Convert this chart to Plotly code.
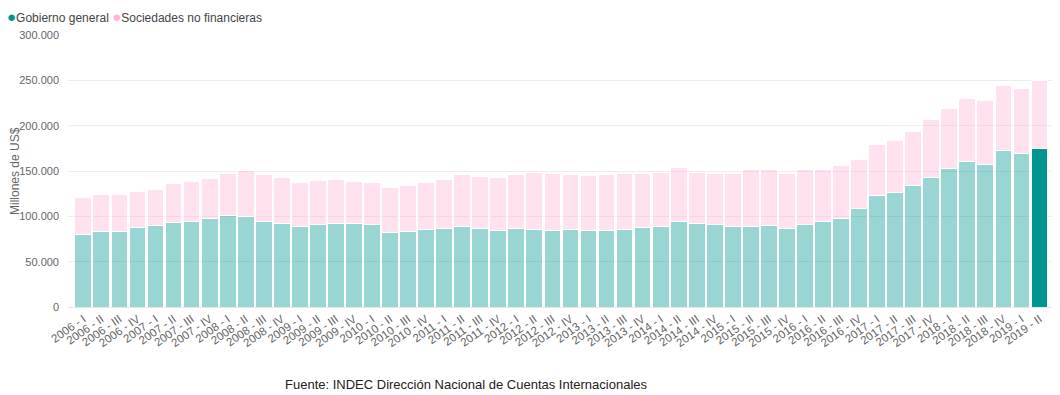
import plotly.graph_objects as go

categories = [
    "2006 - I", "2006 - II", "2006 - III", "2006 - IV",
    "2007 - I", "2007 - II", "2007 - III", "2007 - IV",
    "2008 - I", "2008 - II", "2008 - III", "2008 - IV",
    "2009 - I", "2009 - II", "2009 - III", "2009 - IV",
    "2010 - I", "2010 - II", "2010 - III", "2010 - IV",
    "2011 - I", "2011 - II", "2011 - III", "2011 - IV",
    "2012 - I", "2012 - II", "2012 - III", "2012 - IV",
    "2013 - I", "2013 - II", "2013 - III", "2013 - IV",
    "2014 - I", "2014 - II", "2014 - III", "2014 - IV",
    "2015 - I", "2015 - II", "2015 - III", "2015 - IV",
    "2016 - I", "2016 - II", "2016 - III", "2016 - IV",
    "2017 - I", "2017 - II", "2017 - III", "2017 - IV",
    "2018 - I", "2018 - II", "2018 - III", "2018 - IV",
    "2019 - I", "2019 - II",
]

# Gobierno general (millones de US$)
gobierno_general = [
    79900, 83200, 83200, 87500,
    89700, 93000, 94500, 97400,
    100400, 100000, 94100, 91600,
    89000, 90500, 91900, 91900,
    90500, 81700, 83100, 85300,
    86800, 88300, 86100, 84600,
    86800, 85300, 84600, 85700,
    84200, 84200, 85300, 87500,
    88300, 94100, 91600, 90900,
    88900, 89300, 89700, 87100,
    91500, 94100, 98100, 108300,
    122600, 126300, 133600, 142400,
    152300, 161000, 157700, 173100,
    169100, 175300,
]

# Total (Gobierno general + Sociedades no financieras)
total_deuda = [
    120900, 124200, 123800, 127800,
    130000, 135900, 138100, 141400,
    146900, 150500, 146100, 142500,
    137700, 139500, 140300, 138400,
    137300, 131400, 134400, 137300,
    141000, 146500, 143900, 142500,
    146500, 148000, 146900, 146100,
    145400, 146500, 146900, 146900,
    148300, 153500, 148700, 147600,
    146800, 151200, 151900, 147500,
    151900, 151200, 155600, 162500,
    179000, 184100, 194000, 206400,
    219200, 230200, 228000, 243800,
    241200, 250000,
]

sociedades_no_financieras = [t - g for t, g in zip(total_deuda, gobierno_general)]

TEAL = "rgb(0,149,145)"
TEAL_LIGHT = "rgba(0,149,145,0.4)"
PINK = "rgb(255,179,217)"
PINK_LIGHT = "rgba(255,179,217,0.4)"

n = len(categories)
teal_colors = [TEAL_LIGHT] * (n - 1) + [TEAL]
pink_colors = [PINK_LIGHT] * n

FONT = "Arial, 'Liberation Sans', sans-serif"

# page has an 8px body margin: figure is placed at (8, 8)
PLOT_W = 987
PLOT_H = 272

fig = go.Figure()
fig.add_trace(go.Bar(
    x=categories, y=gobierno_general, name="Gobierno general",
    marker=dict(color=teal_colors, line=dict(color="white", width=1)),
    showlegend=False,
))
fig.add_trace(go.Bar(
    x=categories, y=sociedades_no_financieras, name="Sociedades no financieras",
    marker=dict(color=pink_colors, line=dict(color="white", width=1)),
    showlegend=False,
))

fig.update_layout(
    width=1052, height=387,
    margin=dict(l=60, r=5, t=27, b=88, autoexpand=False),
    barmode="stack", bargap=0.07,
    plot_bgcolor="white", paper_bgcolor="white",
    separators=",.",
    font=dict(family=FONT, size=11, color="#666666"),
    xaxis=dict(
        type="category", range=[-0.85, 53.86],
        tickangle=-35, tickfont=dict(size=11.5, color="#666666"),
        showgrid=False, showline=True, linecolor="#e6e6e6", linewidth=1,
        ticks="", automargin=False,
    ),
    yaxis=dict(
        range=[0, 300000], tickvals=[0, 50000, 100000, 150000, 200000, 250000, 300000],
        tickformat=",.0f", tickfont=dict(size=11, color="#666666"),
        showgrid=True, gridcolor="#ececec", gridwidth=1, zeroline=False,
        automargin=False, ticklabelstandoff=8,
    ),
    annotations=[
        dict(
            text="Millones de US$", textangle=-90,
            xref="paper", yref="paper", x=(15 - 68) / PLOT_W, y=0.5,
            xanchor="center", yanchor="middle", showarrow=False,
            font=dict(family=FONT, size=12, color="#666666"),
        ),
        dict(
            text="<span style='color:#009591;font-size:15px'>●</span>Gobierno general "
                 "<span style='color:#ffb3d9;font-size:15px'>●</span>Sociedades no financieras",
            xref="paper", yref="paper", x=-63 / PLOT_W, y=1 + 19 / PLOT_H,
            xanchor="left", yanchor="middle", showarrow=False,
            font=dict(family=FONT, size=12, color="#444444"),
        ),
        dict(
            text="Fuente: INDEC Dirección Nacional de Cuentas Internacionales",
            xref="paper", yref="paper", x=(466 - 68) / PLOT_W, y=-78 / PLOT_H,
            xanchor="center", yanchor="middle", showarrow=False,
            font=dict(family=FONT, size=13, color="#222222"),
        ),
    ],
)

fig.write_html("out.html")
